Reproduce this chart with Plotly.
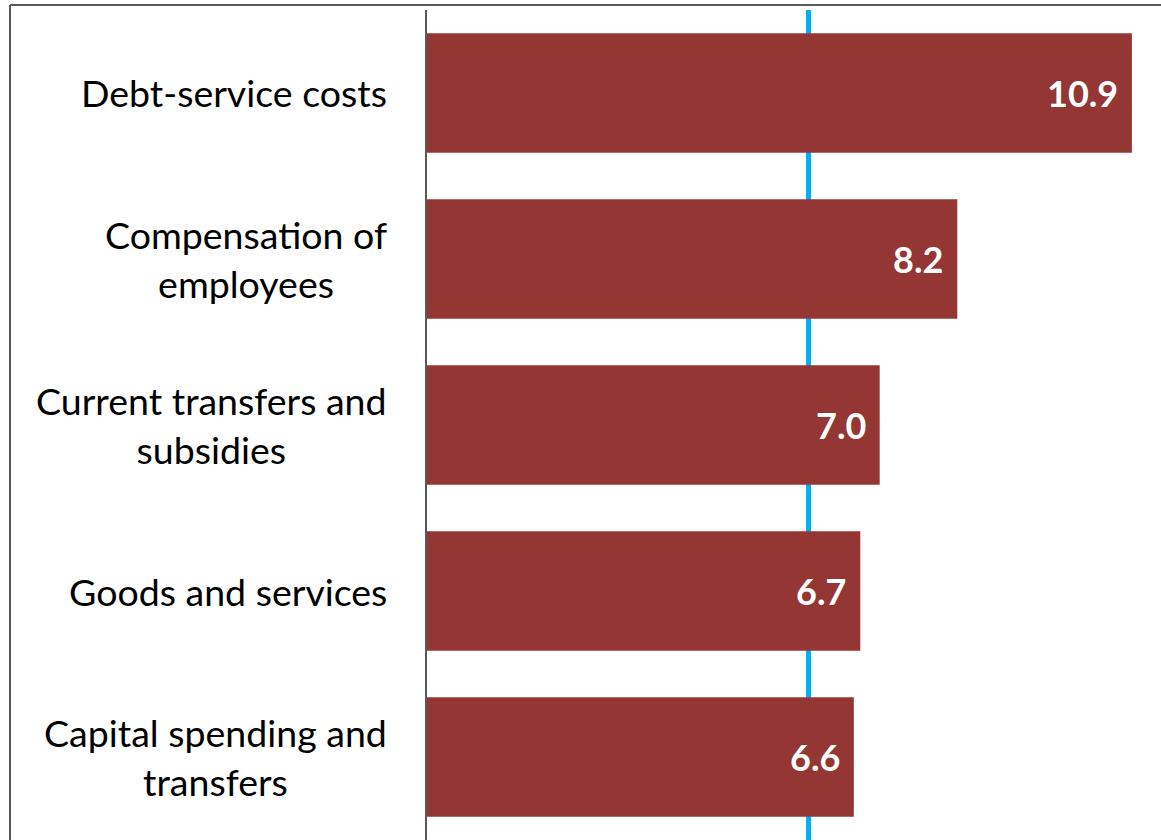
import plotly.graph_objects as go

# spending categories, top to bottom
categories = [
    'Debt-service costs',
    'Compensation of<br>employees',
    'Current transfers and<br>subsidies',
    'Goods and services',
    'Capital spending and<br>transfers',
]
growth = [10.9, 8.2, 7.0, 6.7, 6.6]
average_line = 5.9

bar_color = '#943634'
line_color = '#00B0F0'
axis_color = '#595959'
label_font = 'Lato'

W, H = 1161, 840

fig = go.Figure()
fig.add_trace(go.Bar(
    x=growth,
    y=categories,
    orientation='h',
    marker=dict(color=bar_color, line=dict(width=0)),
    hoverinfo='x+y',
))

# value labels, right aligned inside each bar
for cat, val in zip(categories, growth):
    fig.add_annotation(
        x=val, y=cat, xref='x', yref='y',
        text='<b>%.1f</b>' % val, showarrow=False,
        xanchor='right', xshift=-12,
        font=dict(family=label_font, size=36, color='white'),
    )
    # category labels, block right aligned, lines centred
    fig.add_annotation(
        x=0, y=cat, xref='x', yref='y',
        text=cat, showarrow=False,
        xanchor='right', align='center', xshift=-38,
        font=dict(family=label_font, size=37.5, color='black'),
    )

# average marker, drawn behind the bars
fig.add_shape(type='line', xref='x', yref='y domain',
              x0=average_line, x1=average_line, y0=0, y1=1,
              layer='below',
              line=dict(color=line_color, width=5))

# chart frame (left and top edge)
fig.add_shape(type='line', xref='paper', yref='paper',
              x0=10 / W, x1=10 / W, y0=0, y1=1 - 5 / H,
              line=dict(color=axis_color, width=2))
fig.add_shape(type='line', xref='paper', yref='paper',
              x0=10 / W, x1=1, y0=1 - 5 / H, y1=1 - 5 / H,
              line=dict(color=axis_color, width=2))

fig.update_layout(
    width=W, height=H,
    margin=dict(l=0, r=0, t=0, b=0),
    plot_bgcolor='white',
    paper_bgcolor='white',
    showlegend=False,
    bargap=0.28,
    xaxis=dict(
        domain=[427 / W, 1],
        range=[0, 11.35],
        showgrid=False, zeroline=False,
        showticklabels=False, ticks='',
    ),
    yaxis=dict(
        domain=[0, 1 - 10 / H],
        autorange='reversed',
        showgrid=False, zeroline=False,
        showticklabels=False, ticks='',
        showline=True, linecolor=axis_color, linewidth=1.5,
    ),
)

fig.write_html("out.html", config={'displayModeBar': False},
               post_script="document.body.style.margin='0';")
